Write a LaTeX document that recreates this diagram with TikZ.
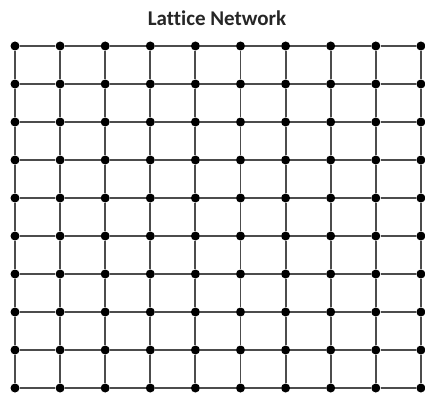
\documentclass[tikz,border=0pt]{standalone}
\usepackage{fontspec}
\setmainfont{Carlito}[Ligatures=NoCommon]
\begin{document}
\begin{tikzpicture}[x=1pt, y=-1pt,
    dot/.style={circle, fill=black, inner sep=0pt, minimum size=9pt},
    link/.style={line width=1.9pt, black!70}]
    \useasboundingbox (0,0) rectangle (425,396);
    % Title
    \node[font=\bfseries\fontsize{21}{24}\selectfont, text=black!85] (title) at (217,18) {Lattice Network};
    % Nodes
    \foreach \i in {0,...,9}
        \foreach \j in {0,...,9}
            \node[dot] (n-\i-\j) at ({15+45.1*\i},{46+38*\j}) {};
    % Links
    \foreach \i [evaluate=\i as \k using int(\i+1)] in {0,...,8}
        \foreach \j in {0,...,9} {
            \draw[link] (n-\i-\j) -- (n-\k-\j);
            \draw[link] (n-\j-\i) -- (n-\j-\k);
        }
\end{tikzpicture}
\end{document}
